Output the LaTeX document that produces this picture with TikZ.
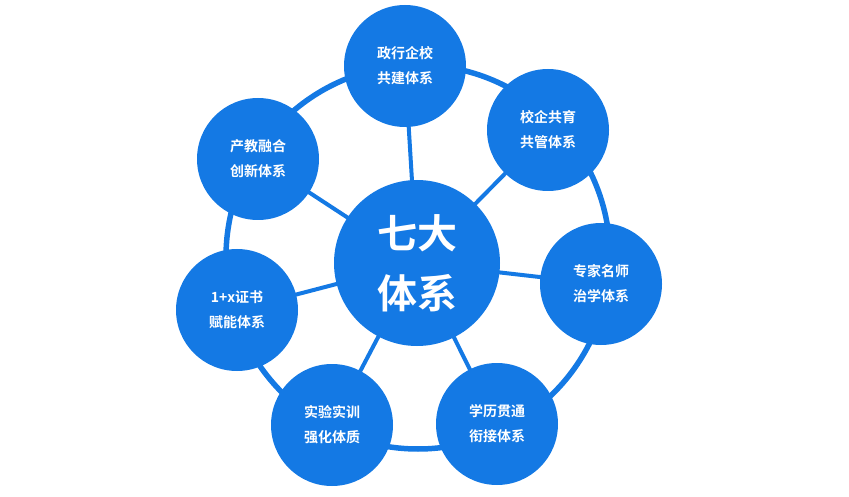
\documentclass[tikz,border=0pt]{standalone}
\usepackage{fontspec}
\setmainfont{Noto Sans CJK SC}[BoldFont={Noto Sans CJK SC Bold}]
\usepackage{xcolor}
\usetikzlibrary{backgrounds}
\definecolor{sysblue}{HTML}{1479E4}
\tikzset{
    hub/.style={circle, fill=sysblue, text=white,
        minimum size=166pt, inner sep=0pt, align=center,
        font=\fontsize{40}{60}\selectfont\bfseries},
    sub/.style={circle, fill=sysblue, text=white,
        minimum size=122pt, inner sep=0pt, align=center,
        font=\fontsize{14}{25}\selectfont\bfseries},
    spoke/.style={draw=sysblue, line width=4pt},
    ring/.style={draw=sysblue, line width=5.5pt},
}

\begin{document}
\begin{tikzpicture}[x=1pt, y=-1pt]
    \useasboundingbox (0,0) rectangle (849,497);

    % ── Centre ─────────────────────────────────────────────────────────────
    \coordinate (mid) at (418,257);
    \node[hub] (hub) at (417,263) {七大\\体系};

    % ── Seven systems ──────────────────────────────────────────────────────
    \node[sub] (zhengxing) at (405,66)  {政行企校\\共建体系};
    \node[sub] (gongguan)  at (548,130) {校企共育\\共管体系};
    \node[sub] (zhixue)    at (601,284) {专家名师\\治学体系};
    \node[sub] (xianjie)   at (497,424) {学历贯通\\衔接体系};
    \node[sub] (shixun)    at (332,425) {实验实训\\强化体质};
    \node[sub] (fuzheng)   at (237,310) {1+x证书\\赋能体系};
    \node[sub] (chanjiao)  at (258,159) {产教融合\\创新体系};

    % ── Ring and spokes ────────────────────────────────────────────────────
    \begin{scope}[on background layer]
        \draw[ring] (mid) circle[radius=192pt];
        \foreach \n in {zhengxing,gongguan,zhixue,xianjie,shixun,fuzheng,chanjiao}
            \draw[spoke] (hub.center) -- (\n.center);
    \end{scope}

\end{tikzpicture}
\end{document}
